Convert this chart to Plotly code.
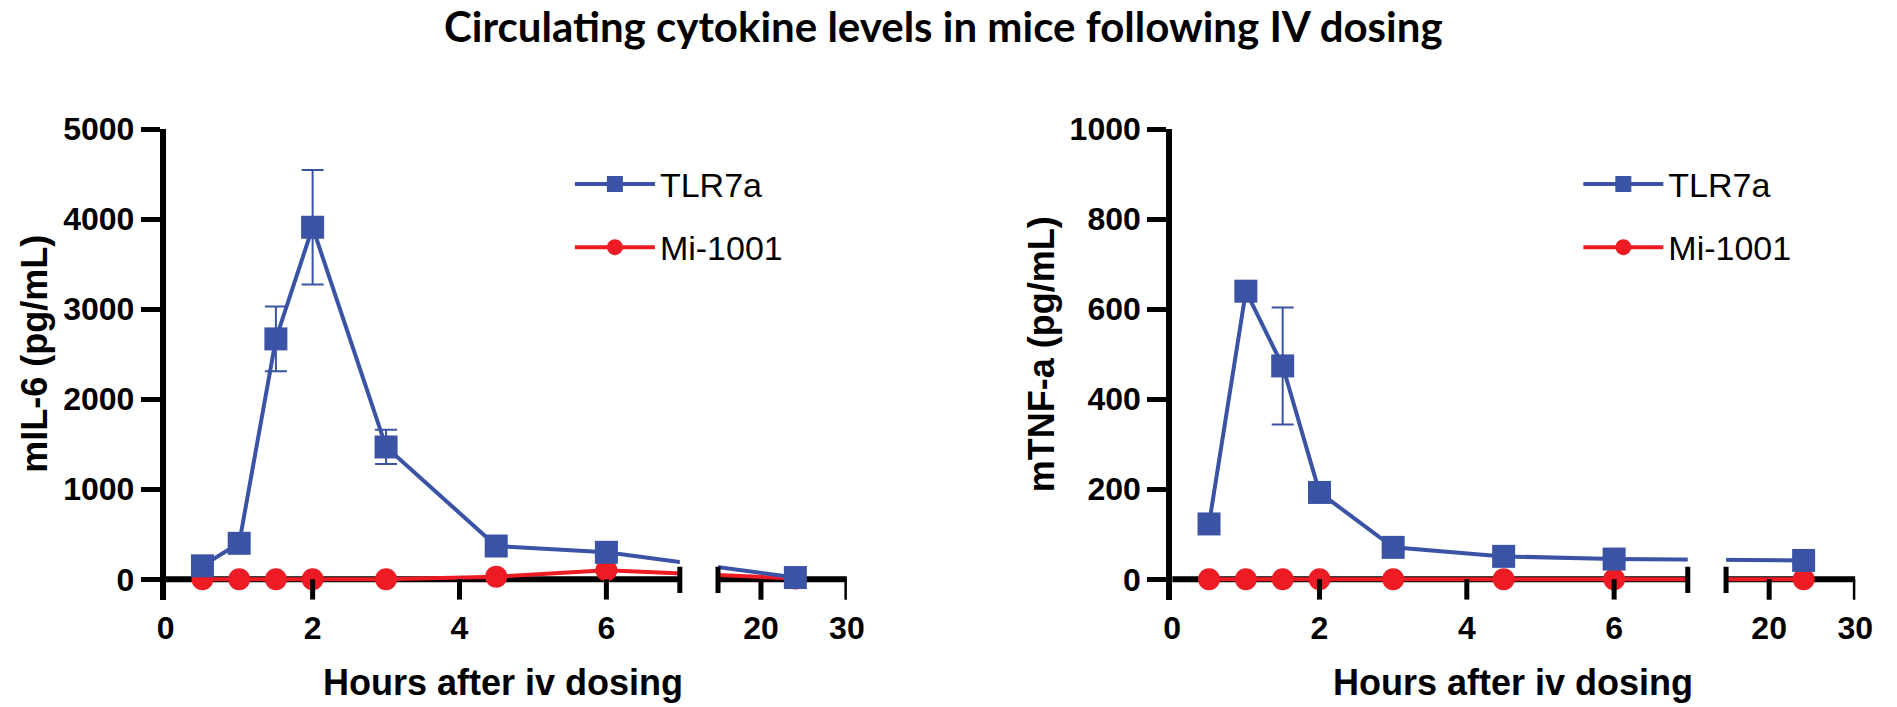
import plotly.graph_objects as go

# ---------------- data ----------------
hours = [0.5, 1, 1.5, 2, 3, 4.5, 6, 24]
il6_tlr7a = [150, 400, 2670, 3910, 1470, 370, 300, 20]
il6_tlr7a_err = [0, 0, 360, 635, 190, 0, 0, 0]
il6_mi1001 = [0, 0, 0, 0, 0, 30, 100, 10]
tnf_tlr7a = [123, 640, 474, 193, 71, 51, 45, 42]
tnf_tlr7a_err = [0, 0, 130, 0, 0, 0, 0, 0]
tnf_mi1001 = [0, 0, 0, 0, 0, 0, 0, 0]
series_names = ["TLR7a", "Mi-1001"]
x_tick_hours = [0, 2, 4, 6, 20, 30]
x_tick_labels = ["0", "2", "4", "6", "20", "30"]
il6_ticks = [0, 1000, 2000, 3000, 4000, 5000]
tnf_ticks = [0, 200, 400, 600, 800, 1000]
chart_title = "Circulating cytokine levels in mice following IV dosing"
x_title = "Hours after iv dosing"
y_titles = ["mIL-6 (pg/mL)", "mTNF-a (pg/mL)"]

# ---------------- styling / layout ----------------
W, H = 1897, 707
BLUE = "#3A53A4"
RED = "#ED1C24"
FONT = "Liberation Sans"

# broken x axis: 0-7 h, gap, 15-30 h (compressed)
SEG1_END, SEG2_START, SEG2_END = 7, 15, 30
GAP = 0.52
K2 = 0.117


def to_u(h):
    if h <= SEG1_END:
        return h
    return SEG1_END + GAP + (h - SEG2_START) * K2


U_MAX = to_u(SEG2_END)

# pixel geometry of the panels
Y_TOP_PX, Y_ZERO_PX, Y_BOT_PX = 114, 576, 597
panels = [
    dict(xl=159, xr=850, ymax=5000, ticks=il6_ticks, tl=il6_tlr7a, te=il6_tlr7a_err,
         mi=il6_mi1001, ytitle=y_titles[0], ytx=26, xtx=501, legx=569),
    dict(xl=1180, xr=1873, ymax=1000, ticks=tnf_ticks, tl=tnf_tlr7a, te=tnf_tlr7a_err,
         mi=tnf_mi1001, ytitle=y_titles[1], ytx=1047, xtx=1526, legx=1592),
]

fig = go.Figure()
shapes = []
annotations = []
layout_axes = {}

for i, p in enumerate(panels):
    n = "" if i == 0 else str(i + 1)
    xa, ya = "x" + n, "y" + n
    leg = "legend" if i == 0 else "legend2"
    dpp = p["ymax"] / (Y_ZERO_PX - Y_TOP_PX)  # data units per pixel
    ymin = -(Y_BOT_PX - Y_ZERO_PX) * dpp
    xs = [to_u(h) for h in hours]

    fig.add_trace(go.Scatter(
        x=xs, y=p["mi"], name=series_names[1], mode="lines+markers",
        line=dict(color=RED, width=4),
        marker=dict(symbol="circle", size=22, color=RED),
        xaxis=xa, yaxis=ya, legend=leg, legendgroup="g2" + n, legendrank=2,
        cliponaxis=False,
    ))
    fig.add_trace(go.Scatter(
        x=xs, y=p["tl"], name=series_names[0], mode="lines+markers",
        line=dict(color=BLUE, width=4),
        marker=dict(symbol="square", size=23, color=BLUE),
        error_y=dict(type="data", array=p["te"], color=BLUE, thickness=2, width=11),
        xaxis=xa, yaxis=ya, legend=leg, legendgroup="g1" + n, legendrank=1,
        cliponaxis=False,
    ))

    layout_axes["xaxis" + n] = dict(
        domain=[p["xl"] / W, p["xr"] / W], range=[0, U_MAX], anchor=ya,
        showline=False, showgrid=False, zeroline=False, ticks="",
        tickvals=[to_u(h) for h in x_tick_hours], ticktext=x_tick_labels,
        tickfont=dict(family=FONT, size=32, color="black", weight="bold"),
        ticklabelstandoff=6,
    )
    layout_axes["yaxis" + n] = dict(
        domain=[1 - Y_BOT_PX / H, 1 - Y_TOP_PX / H], range=[ymin, p["ymax"]], anchor=xa,
        showline=True, linewidth=6, linecolor="black", showgrid=False, zeroline=False,
        ticks="outside", ticklen=19, tickwidth=5, tickcolor="black",
        tickvals=p["ticks"],
        tickfont=dict(family=FONT, size=32, color="black", weight="bold"),
    )

    # x axis line in two segments
    for a, b in [(0, SEG1_END), (SEG2_START, SEG2_END)]:
        shapes.append(dict(type="line", xref=xa, yref=ya, x0=to_u(a), x1=to_u(b),
                           y0=0, y1=0, line=dict(color="black", width=6), layer="below"))
    # gap cover (hides connecting line inside the break)
    shapes.append(dict(type="rect", xref=xa, yref=ya + " domain", x0=to_u(SEG1_END),
                       x1=to_u(SEG2_START), y0=0, y1=1, fillcolor="white",
                       line=dict(width=0), layer="above"))
    # break marks
    for h in [SEG1_END, SEG2_START]:
        shapes.append(dict(type="line", xref=xa, yref=ya, x0=to_u(h), x1=to_u(h),
                           y0=13 * dpp, y1=-14 * dpp, line=dict(color="black", width=5),
                           layer="above"))
    # tick marks
    for h in x_tick_hours[1:]:
        depth = 21 if h <= SEG1_END else 26
        shapes.append(dict(type="line", xref=xa, yref=ya, x0=to_u(h), x1=to_u(h),
                           y0=0, y1=-depth * dpp, line=dict(color="black", width=5),
                           layer="above"))

    annotations.append(dict(text=p["ytitle"], xref="paper", yref="paper",
                            x=p["ytx"] / W, y=1 - 345 / H, xanchor="center", yanchor="middle",
                            textangle=-90, showarrow=False,
                            font=dict(family=FONT, size=36, color="black", weight="bold")))
    annotations.append(dict(text=x_title, xref="paper", yref="paper",
                            x=p["xtx"] / W, y=1 - 682 / H, xanchor="center", yanchor="middle",
                            showarrow=False,
                            font=dict(family=FONT, size=36, color="black", weight="bold")))

    layout_axes[leg] = dict(
        x=p["legx"] / W, y=1 - 141 / H, xanchor="left", yanchor="top",
        font=dict(family=FONT, size=34, color="black"),
        bgcolor="rgba(0,0,0,0)", borderwidth=0,
        traceorder="grouped", tracegroupgap=16, itemwidth=80,
    )

annotations.append(dict(text=chart_title, xref="paper", yref="paper", x=948 / W,
                        y=1 + 19 / H, xanchor="center", yanchor="top", showarrow=False,
                        font=dict(family="Lato", size=42, color="black", weight="bold")))

fig.update_layout(
    width=W, height=H, margin=dict(l=0, r=0, t=0, b=0),
    paper_bgcolor="white", plot_bgcolor="white",
    shapes=shapes, annotations=annotations, showlegend=True,
    **layout_axes,
)

fig.write_html("out.html")
